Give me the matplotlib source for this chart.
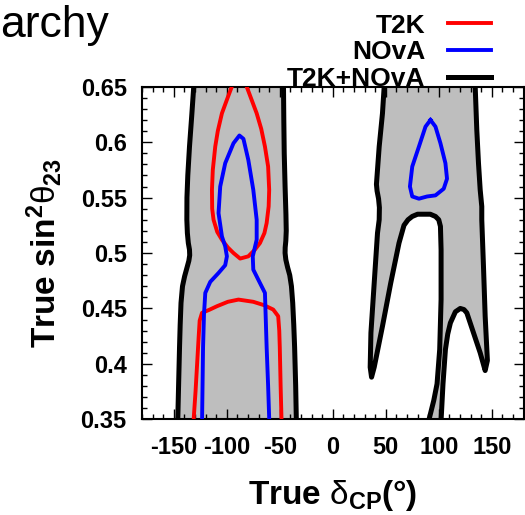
import matplotlib
matplotlib.use('Agg')
import matplotlib.pyplot as plt
from matplotlib.ticker import MultipleLocator, FormatStrFormatter
from matplotlib.lines import Line2D

plt.rcParams['font.family'] = ['Liberation Sans', 'DejaVu Sans']
plt.rcParams['mathtext.fontset'] = 'custom'
plt.rcParams['mathtext.rm'] = 'Liberation Sans:bold'
plt.rcParams['mathtext.bf'] = 'Liberation Sans:bold'
plt.rcParams['mathtext.it'] = 'Liberation Sans'
plt.rcParams['axes.unicode_minus'] = False

# T2K+NOvA band around -90 deg (left / right black edges)
band_left_x = [-131.2, -131.2, -133.0, -135.2, -136.8, -137.6, -137.7, -137.2, -136.3, -135.2,
               -135.0, -135.8, -137.5, -139.8, -141.8, -143.2, -144.0, -144.6, -145.5, -146.5]
band_left_y = [0.66, 0.650, 0.625, 0.596, 0.570, 0.550, 0.530, 0.518, 0.509, 0.503,
               0.498, 0.493, 0.487, 0.479, 0.470, 0.455, 0.435, 0.415, 0.380, 0.340]
band_right_x = [-46.5, -46.5, -46.2, -45.8, -45.0, -44.2, -43.9, -44.3, -44.9, -45.0,
                -44.3, -42.6, -40.6, -39.0, -37.8, -36.8, -36.0, -35.0, -34.2]
band_right_y = [0.66, 0.650, 0.620, 0.590, 0.560, 0.535, 0.520, 0.511, 0.505, 0.500,
                0.494, 0.487, 0.480, 0.470, 0.455, 0.435, 0.415, 0.380, 0.340]

# T2K+NOvA region around +90 deg (one closed outline, runs past the frame)
fork_x = [49.0, 48.5, 46.9, 43.8, 41.2, 41.8, 43.2, 44.0, 43.8, 42.2, 39.1, 36.0, 35.3, 36.6,
          39.1, 46.9, 54.7, 62.5, 67.2, 71.0, 75.0, 80.0, 85.9, 92.0, 96.9, 100.0, 101.6,
          102.2, 102.2, 100.9, 98.4, 95.3, 90.6, 89.5,
          101.5, 102.2, 104.0, 106.3, 108.5, 111.0, 115.7, 120.3, 123.8, 126.5, 132.8,
          139.1, 143.8, 145.9, 143.8, 142.2, 140.6, 140.6, 139.1, 137.5, 135.9, 134.4, 134.0]
fork_y = [0.66, 0.650, 0.626, 0.596, 0.562, 0.556, 0.549, 0.541, 0.530, 0.518, 0.473, 0.428,
          0.397, 0.388,
          0.397, 0.434, 0.473, 0.509, 0.525, 0.530, 0.533, 0.535, 0.535, 0.535, 0.533, 0.530,
          0.524, 0.503, 0.458, 0.413, 0.382, 0.367, 0.349, 0.340,
          0.340, 0.349, 0.382, 0.413, 0.427, 0.437, 0.447, 0.450, 0.449, 0.446, 0.428,
          0.410, 0.394, 0.403, 0.443, 0.488, 0.530, 0.542, 0.557, 0.581, 0.611, 0.650, 0.66]

# T2K contours
t2k_up_x = [-88.5, -95.3, -100.0, -104.6, -108.5, -110.9, -113.2, -114.0, -113.8, -112.5,
            -109.0, -104.6, -99.0, -93.7, -87.4, -79.7, -73.5, -68.7, -64.5, -62.4, -60.5,
            -60.0, -61.0, -64.0, -67.5, -71.8, -76.5, -81.2, -88.5]
t2k_up_y = [0.668, 0.650, 0.638, 0.626, 0.610, 0.596, 0.575, 0.557, 0.540, 0.530,
            0.519, 0.512, 0.505, 0.500, 0.495, 0.497, 0.503, 0.509, 0.518, 0.527, 0.542,
            0.557, 0.578, 0.596, 0.612, 0.626, 0.638, 0.650, 0.668]
t2k_lo_x = [-131.5, -131.2, -129.5, -128.0, -126.5, -125.6, -123.4, -116.0, -109.3, -99.0,
            -89.0, -75.0, -65.0, -56.2, -51.5, -50.5, -50.0, -49.2, -48.4, -48.3]
t2k_lo_y = [0.340, 0.351, 0.375, 0.400, 0.425, 0.439, 0.446, 0.449, 0.452, 0.456,
            0.458, 0.456, 0.453, 0.449, 0.443, 0.430, 0.415, 0.380, 0.351, 0.340]

# NOvA contours
nova_l_x = [-123.4, -123.3, -122.4, -121.5, -120.3, -115.6, -107.8, -101.5, -99.9, -101.5,
            -104.6, -107.8, -106.2, -101.5, -93.7, -88.1, -84.3, -79.7, -75.0, -71.8, -71.8,
            -75.5, -75.0, -70.3, -64.0, -62.4, -61.0, -60.0, -60.0]
nova_l_y = [0.340, 0.351, 0.415, 0.445, 0.464, 0.474, 0.482, 0.489, 0.497, 0.506,
            0.515, 0.536, 0.560, 0.581, 0.599, 0.606, 0.603, 0.584, 0.557, 0.530, 0.512,
            0.497, 0.485, 0.476, 0.464, 0.415, 0.380, 0.351, 0.340]
nova_r_x = [92.2, 96.9, 101.6, 106.3, 107.8, 104.7, 96.9, 89.0, 81.3, 75.0, 72.8, 75.0,
            81.3, 87.5, 92.2]
nova_r_y = [0.620, 0.614, 0.599, 0.581, 0.567, 0.558, 0.552, 0.551, 0.549, 0.551, 0.560,
            0.578, 0.596, 0.614, 0.620]

xticks = [-150, -100, -50, 0, 50, 100, 150]

fig = plt.figure(figsize=(5.25, 5.15), dpi=100)
ax = fig.add_axes([0.2705, 0.1858, 0.7267, 0.6458])

gray = '#bebebe'
ax.fill(band_left_x + band_right_x[::-1], band_left_y + band_right_y[::-1],
        color=gray, lw=0, zorder=1)
ax.fill(fork_x, fork_y, color=gray, lw=0, zorder=1)
ax.plot(band_left_x, band_left_y, color='black', lw=3.6, zorder=2, solid_joinstyle='round')
ax.plot(band_right_x, band_right_y, color='black', lw=3.6, zorder=2, solid_joinstyle='round')
ax.plot(fork_x, fork_y, color='black', lw=3.6, zorder=2, solid_joinstyle='round')

ax.plot(t2k_up_x, t2k_up_y, color='#ff0000', lw=2.8, zorder=3, solid_joinstyle='round')
ax.plot(t2k_lo_x, t2k_lo_y, color='#ff0000', lw=2.8, zorder=3, solid_joinstyle='round')
ax.plot(nova_l_x, nova_l_y, color='#0000ff', lw=2.8, zorder=3, solid_joinstyle='round')
ax.plot(nova_r_x, nova_r_y, color='#0000ff', lw=2.8, zorder=3, solid_joinstyle='round')

ax.set_xlim(-180, 180)
ax.set_ylim(0.35, 0.65)
ax.set_xticks(xticks)
ax.xaxis.set_minor_locator(MultipleLocator(10))
ax.yaxis.set_major_locator(MultipleLocator(0.05))
ax.yaxis.set_minor_locator(MultipleLocator(0.01))
ax.yaxis.set_major_formatter(FormatStrFormatter('%g'))
ax.tick_params(which='both', direction='in', top=True, right=True, width=1)
ax.tick_params(which='major', length=7, labelsize=17)
ax.tick_params(axis='x', which='major', pad=12)
ax.tick_params(axis='y', which='major', pad=11)
ax.tick_params(which='minor', length=3.5)
for lab in ax.get_xticklabels() + ax.get_yticklabels():
    lab.set_fontweight('bold')
for s in ax.spines.values():
    s.set_linewidth(1.5)

ax.set_xlabel(r'True $\delta_\mathbf{CP}$(°)', fontsize=24, fontweight='bold', labelpad=14)
ax.set_ylabel(r'True sin$^\mathbf{2}\theta_\mathbf{23}$', fontsize=24, fontweight='bold', labelpad=12)

handles = [Line2D([], [], color='#ff0000', lw=2.8),
           Line2D([], [], color='#0000ff', lw=2.8),
           Line2D([], [], color='black', lw=3.6)]
leg = ax.legend(handles, ['T2K', 'NOvA', 'T2K+NOvA'], loc='upper right',
                bbox_to_anchor=(498 / 525, 1 - 7 / 515), bbox_transform=fig.transFigure,
                markerfirst=False, frameon=False, handlelength=1.64, handletextpad=0.87,
                labelspacing=0.1, borderaxespad=0.1, borderpad=0.15,
                prop={'size': 19, 'weight': 'bold'})

fig.text(0.0, 1 - 37 / 515, 'archy', fontsize=32, ha='left', va='baseline')

fig.savefig('out.png', dpi=100)
